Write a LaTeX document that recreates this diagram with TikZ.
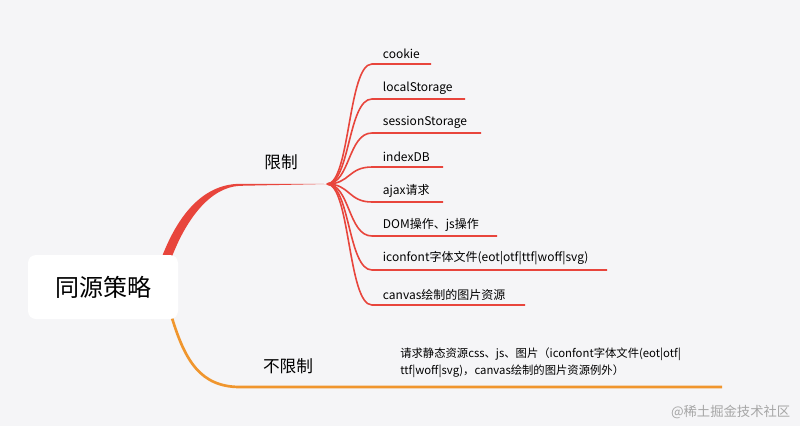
\documentclass[tikz,border=0pt]{standalone}
\usepackage{fontspec}
\setmainfont{Noto Sans CJK SC}
\definecolor{bg}{HTML}{F5F5F7}
\definecolor{redline}{HTML}{E8453C}
\definecolor{orangeline}{HTML}{F0962E}
\tikzset{
  leaf/.style={anchor=south west,inner sep=2pt,font=\fontsize{9}{11}\selectfont},
  branch/.style={font=\fontsize{12.5}{14}\selectfont},
  twig/.style={redline,line width=1.2pt}
}
\begin{document}
\begin{tikzpicture}[x=0.75pt,y=-0.75pt]
  \fill[bg] (0,0) rectangle (800,426);
  \useasboundingbox (0,0) rectangle (800,426);
  % main branches
  \coordinate (fork) at (327,184);
  \coordinate (rbot) at (172,318);
  \fill[redline] (160,262) .. controls (178,212) and (205,184) .. (240,183.8)
    -- (fork) -- (240,185.8) .. controls (210,187) and (185,220) .. (170,262) -- cycle;
  \draw[orangeline,line width=2pt] (rbot) .. controls (185,360) and (200,387) .. (240,387) -- (722,387);
  \node[draw=none,fill=white,rounded corners=6pt,minimum width=112.5pt,minimum height=48pt,
    font=\fontsize{18}{20}\selectfont] (root) at (103,287) {同源策略};
  \node[branch] (limit) at (281,162) {限制};
  \node[branch] (nolimit) at (288,366) {不限制};
  % leaves
  \foreach \y/\e/\t [count=\i] in {64/431/cookie, 99/465/localStorage, 133/481/sessionStorage,
      167/443/indexDB, 202/443/ajax请求, 236/497/DOM操作、js操作,
      270/607/iconfont字体文件(eot|otf|ttf|woff|svg), 305/525/canvas绘制的图片资源}{
    \coordinate (s\i) at (372,\y);
    \coordinate (e\i) at (\e,\y);
    \draw[twig] (fork) .. controls (350,184) and (348,\y) .. (s\i) -- (e\i);
    \node[leaf] (leaf\i) at (380,\y-2) {\t};
  }
  \node[anchor=north west,align=left,inner sep=0pt,font=\fontsize{8.5}{12.5}\selectfont] (note) at (400,348)
    {请求静态资源css、js、图片（iconfont字体文件(eot|otf|\\ttf|woff|svg)，canvas绘制的图片资源例外）};
  \node[anchor=east,text=gray!70,font=\fontsize{10}{12}\selectfont] (mark) at (795,412) {@稀土掘金技术社区};
\end{tikzpicture}
\end{document}
